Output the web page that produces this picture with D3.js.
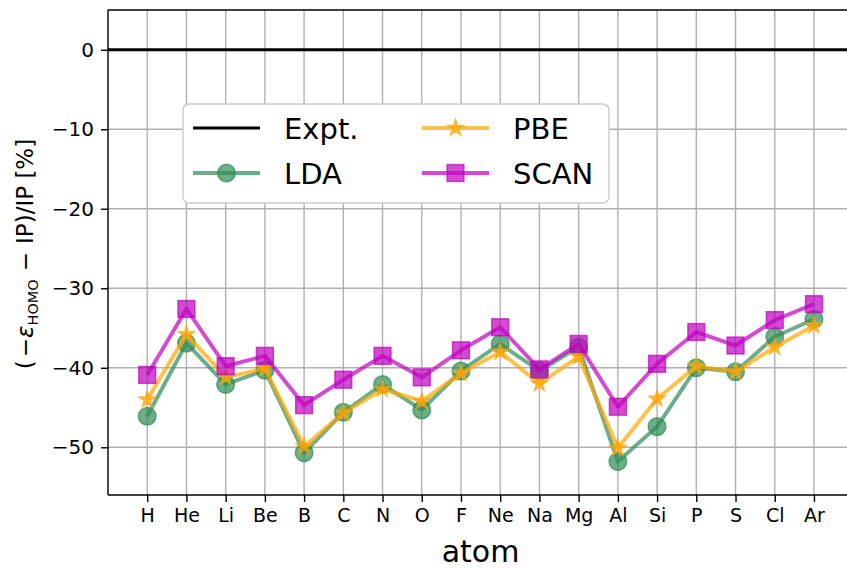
<!DOCTYPE html>
<html>
<head>
<meta charset="utf-8">
<script src="https://cdn.jsdelivr.net/npm/d3@7"></script>
<style>
  body { margin: 0; background: #fff; }
  svg { display: block; }
  text { font-family: "DejaVu Sans", sans-serif; fill: #000; }
</style>
</head>
<body>
<svg id="chart" width="847" height="568"></svg>
<script>
// Relative error of -eps_HOMO against the experimental ionization potential, in percent
const atoms = ["H", "He", "Li", "Be", "B", "C", "N", "O", "F", "Ne", "Na", "Mg", "Al", "Si", "P", "S", "Cl", "Ar"];
const ldaValues  = [-46.1, -36.9, -42.1, -40.3, -50.7, -45.6, -42.1, -45.3, -40.4, -37.0, -40.4, -37.4, -51.8, -47.4, -40.0, -40.5, -36.1, -33.9];
const pbeValues  = [-44.0, -35.8, -41.2, -40.1, -49.9, -45.7, -42.7, -44.2, -40.7, -38.0, -42.0, -38.6, -50.1, -43.9, -39.8, -40.5, -37.4, -34.7];
const scanValues = [-40.9, -32.6, -39.8, -38.5, -44.7, -41.5, -38.5, -41.2, -37.8, -34.9, -40.2, -37.0, -44.9, -39.5, -35.5, -37.2, -34.0, -32.0];
const exptValue = 0;
const yTickValues = [0, -10, -20, -30, -40, -50];

const series = [
  { name: "LDA",  values: ldaValues,  color: "#2e8b57", marker: "circle" },
  { name: "PBE",  values: pbeValues,  color: "#ffa500", marker: "star" },
  { name: "SCAN", values: scanValues, color: "#bf00bf", marker: "square" }
];

const svg = d3.select("#chart");
const plotLeft = 108, plotTop = 10, plotBottom = 495, plotRight = 847;
const step = 39.22;

const x = d3.scaleLinear().domain([-1, 18]).range([plotLeft, plotLeft + 19 * step]);
const y = d3.scaleLinear().domain([-56, 5]).range([plotBottom, plotTop]);

const fmt = v => (v < 0 ? "\u2212" + Math.abs(v) : String(v));

// grid
const grid = svg.append("g");
grid.selectAll("line.v").data(atoms).join("line")
  .attr("x1", (d, i) => x(i)).attr("x2", (d, i) => x(i))
  .attr("y1", plotTop).attr("y2", plotBottom)
  .attr("stroke", "#b0b0b0").attr("stroke-width", 1.4);
grid.selectAll("line.h").data(yTickValues).join("line")
  .attr("x1", plotLeft).attr("x2", plotRight)
  .attr("y1", d => y(d)).attr("y2", d => y(d))
  .attr("stroke", "#b0b0b0").attr("stroke-width", 1.4);

// experiment reference line
svg.append("line")
  .attr("x1", plotLeft).attr("x2", plotRight)
  .attr("y1", y(exptValue)).attr("y2", y(exptValue))
  .attr("stroke", "#000").attr("stroke-width", 3);

// marker drawing helper
function drawMarker(g, type, color, cx, cy) {
  const common = s => s.attr("fill", color).attr("fill-opacity", 0.7)
    .attr("stroke", color).attr("stroke-opacity", 0.7).attr("stroke-width", 1.5);
  if (type === "circle") {
    g.append("circle").attr("cx", cx).attr("cy", cy).attr("r", 8.8).call(common);
  } else if (type === "square") {
    g.append("rect").attr("x", cx - 8.4).attr("y", cy - 8.4)
      .attr("width", 16.8).attr("height", 16.8).call(common);
  } else {
    g.append("path").attr("d", d3.symbol(d3.symbolStar, 80)())
      .attr("transform", `translate(${cx},${cy})`).call(common);
  }
}

// data lines with markers
const line = d3.line().x((d, i) => x(i)).y(d => y(d));
series.forEach(s => {
  const g = svg.append("g");
  g.append("path").datum(s.values)
    .attr("d", line)
    .attr("fill", "none").attr("stroke", s.color).attr("stroke-opacity", 0.7)
    .attr("stroke-width", 4).attr("stroke-linejoin", "round");
  s.values.forEach((v, i) => drawMarker(g, s.marker, s.color, x(i), y(v)));
});

// axes frame
svg.append("line").attr("x1", plotLeft).attr("x2", plotLeft).attr("y1", plotTop).attr("y2", plotBottom)
  .attr("stroke", "#000").attr("stroke-width", 1.4);
svg.append("line").attr("x1", plotLeft).attr("x2", plotRight).attr("y1", plotBottom).attr("y2", plotBottom)
  .attr("stroke", "#000").attr("stroke-width", 1.4);
svg.append("line").attr("x1", plotLeft).attr("x2", plotRight).attr("y1", plotTop).attr("y2", plotTop)
  .attr("stroke", "#000").attr("stroke-width", 1.4);

// y axis
const yAxis = d3.axisLeft(y).tickValues(yTickValues).tickFormat(fmt).tickSize(7).tickPadding(7);
const gy = svg.append("g").attr("transform", `translate(${plotLeft},0)`).call(yAxis);
gy.select(".domain").remove();
gy.selectAll(".tick line").attr("stroke", "#000").attr("stroke-width", 1.4);
gy.selectAll(".tick text").attr("font-size", 20).attr("font-family", "DejaVu Sans").attr("fill", "#000");

// x axis
const xAxis = d3.axisBottom(x).tickValues(d3.range(atoms.length)).tickFormat(i => atoms[i]).tickSize(7).tickPadding(7);
const gx = svg.append("g").attr("transform", `translate(0,${plotBottom})`).call(xAxis);
gx.select(".domain").remove();
gx.selectAll(".tick line").attr("stroke", "#000").attr("stroke-width", 1.4);
gx.selectAll(".tick text").attr("font-size", 19).attr("font-family", "DejaVu Sans").attr("fill", "#000");

// axis titles
svg.append("text").attr("x", x(8.5)).attr("y", 562).attr("text-anchor", "middle")
  .attr("font-size", 30).text("atom");

const yl = svg.append("text")
  .attr("transform", `translate(33,254) rotate(-90)`)
  .attr("text-anchor", "middle").attr("font-size", 23);
yl.append("tspan").text("(");
yl.append("tspan").attr("dx", 3).text("\u2212");
yl.append("tspan").attr("font-style", "italic").text("\u03b5");
yl.append("tspan").attr("font-size", 14.5).attr("dy", 5).text("HOMO");
yl.append("tspan").attr("dy", -5).attr("dx", 8).text("\u2212");
yl.append("tspan").attr("dx", 8).text("IP)/IP [%]");

// legend
const lg = svg.append("g");
lg.append("rect").attr("x", 183).attr("y", 104).attr("width", 426).attr("height", 99)
  .attr("rx", 6).attr("fill", "#fff").attr("stroke", "#cccccc").attr("stroke-width", 1.4);

const legendItems = [
  { name: "Expt.", color: "#000", marker: null, lx: 193, ty: 128 },
  { name: "LDA", color: series[0].color, marker: "circle", lx: 193, ty: 173 },
  { name: "PBE", color: series[1].color, marker: "star", lx: 422, ty: 128 },
  { name: "SCAN", color: series[2].color, marker: "square", lx: 422, ty: 173 }
];
legendItems.forEach(it => {
  const g = lg.append("g");
  g.append("line").attr("x1", it.lx).attr("x2", it.lx + 67).attr("y1", it.ty).attr("y2", it.ty)
    .attr("stroke", it.color).attr("stroke-width", it.marker ? 4 : 3)
    .attr("stroke-opacity", it.marker ? 0.7 : 1);
  if (it.marker) drawMarker(g, it.marker, it.color, it.lx + 33.5, it.ty);
  g.append("text").attr("x", it.lx + 91).attr("y", it.ty + 11).attr("font-size", 29).text(it.name);
});
</script>
</body>
</html>
